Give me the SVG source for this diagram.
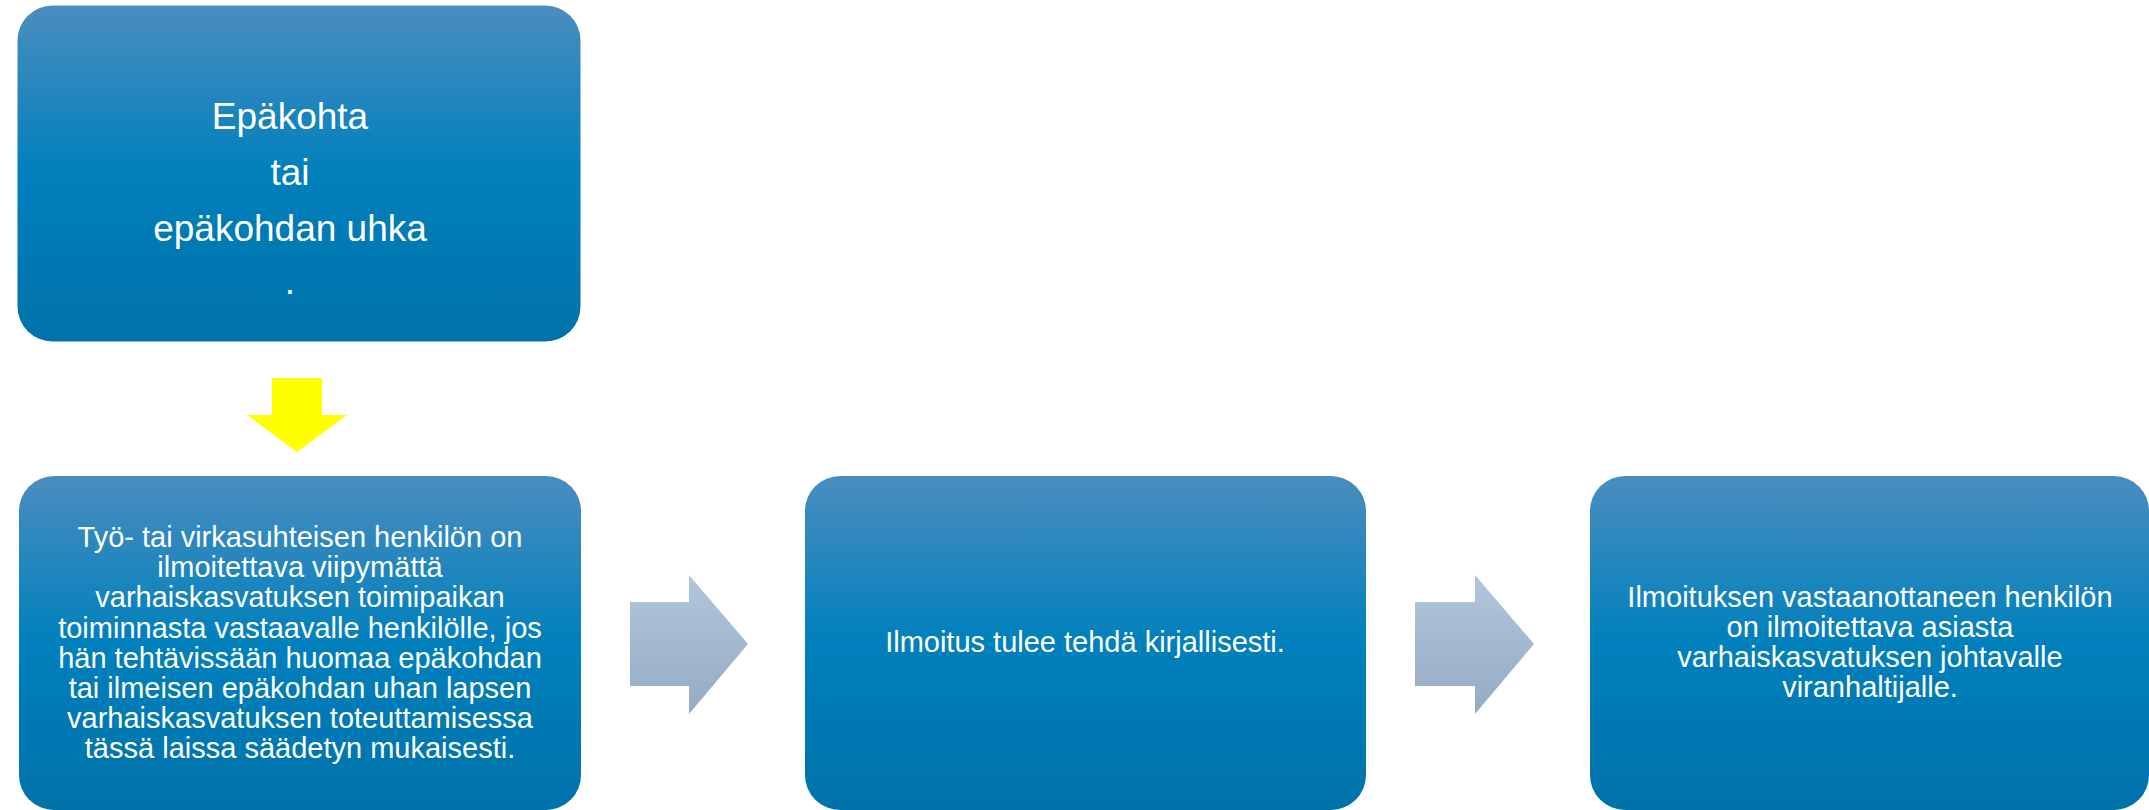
<svg xmlns="http://www.w3.org/2000/svg" width="2149" height="810" viewBox="0 0 2149 810">
<style>
.box{fill:url(#blueGrad);}
.t{font-family:"Liberation Sans",Arial,sans-serif;fill:#ffffff;text-anchor:middle;}
.big{font-size:37px;}
.mid{font-size:29px;}
</style>
<defs>
<linearGradient id="blueGrad" x1="0" y1="0" x2="0" y2="1">
<stop offset="0" stop-color="#4a8dbf"/>
<stop offset="0.5" stop-color="#0080bc"/>
<stop offset="1" stop-color="#0072aa"/>
</linearGradient>
<linearGradient id="grayGrad" x1="0" y1="0" x2="0" y2="1">
<stop offset="0" stop-color="#b2c6dc"/>
<stop offset="1" stop-color="#95abc4"/>
</linearGradient>
</defs>
<rect width="2149" height="810" fill="#ffffff"/>
<g id="connectors">
<polygon points="272,378 322,378 322,415 347,415 297,452 247,415 272,415" fill="#ffff00"/>
<polygon points="630,602 689,602 689,575 748,644 689,714 689,686 630,686" fill="url(#grayGrad)"/>
<polygon points="1415,602 1475,602 1475,575 1534,644 1475,714 1475,686 1415,686" fill="url(#grayGrad)"/>
</g>
<g id="node-top">
<rect class="box" x="17.5" y="5.5" width="563" height="336" rx="35" ry="35"/>
<text class="t big" x="290" y="129">Epäkohta</text>
<text class="t big" x="290" y="185">tai</text>
<text class="t big" x="290" y="241">epäkohdan uhka</text>
<text class="t big" x="290" y="294">.</text>
</g>
<g id="node-1">
<rect class="box" x="19" y="476" width="562" height="334" rx="35" ry="35"/>
<text class="t mid" x="300" y="547">Työ- tai virkasuhteisen henkilön on</text>
<text class="t mid" x="300" y="577">ilmoitettava viipymättä</text>
<text class="t mid" x="300" y="607">varhaiskasvatuksen toimipaikan</text>
<text class="t mid" x="300" y="638">toiminnasta vastaavalle henkilölle, jos</text>
<text class="t mid" x="300" y="668">hän tehtävissään huomaa epäkohdan</text>
<text class="t mid" x="300" y="698">tai ilmeisen epäkohdan uhan lapsen</text>
<text class="t mid" x="300" y="728">varhaiskasvatuksen toteuttamisessa</text>
<text class="t mid" x="300" y="758">tässä laissa säädetyn mukaisesti.</text>
</g>
<g id="node-2">
<rect class="box" x="805" y="476" width="561" height="334" rx="35" ry="35"/>
<text class="t mid" x="1085" y="652">Ilmoitus tulee tehdä kirjallisesti.</text>
</g>
<g id="node-3">
<rect class="box" x="1590" y="476" width="559" height="334" rx="35" ry="35"/>
<text class="t mid" x="1870" y="607">Ilmoituksen vastaanottaneen henkilön</text>
<text class="t mid" x="1870" y="637">on ilmoitettava asiasta</text>
<text class="t mid" x="1870" y="667">varhaiskasvatuksen johtavalle</text>
<text class="t mid" x="1870" y="697">viranhaltijalle.</text>
</g>
</svg>
